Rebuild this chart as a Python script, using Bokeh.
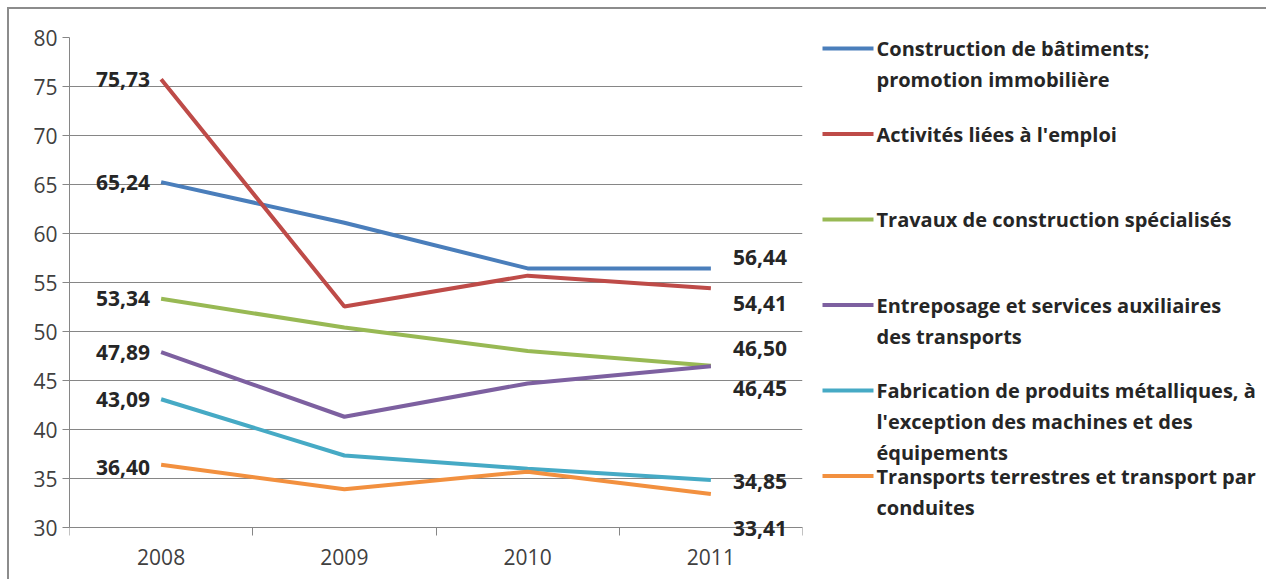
from bokeh.plotting import figure
from bokeh.layouts import row
from bokeh.models import Range1d, FixedTicker, LabelSet, Label, ColumnDataSource
from bokeh.core.properties import value
from bokeh.embed import file_html
from bokeh.resources import INLINE

years = ["2008", "2009", "2010", "2011"]
series_names = [
    "Construction de bâtiments;\npromotion immobilière",
    "Activités liées à l'emploi",
    "Travaux de construction spécialisés",
    "Entreposage et services auxiliaires\ndes transports",
    "Fabrication de produits métalliques, à\nl'exception des machines et des\néquipements",
    "Transports terrestres et transport par\nconduites",
]
construction = [65.24, 61.1, 56.44, 56.44]
emploi = [75.73, 52.55, 55.7, 54.41]
travaux = [53.34, 50.4, 48.0, 46.50]
entreposage = [47.89, 41.3, 44.7, 46.45]
fabrication = [43.09, 37.35, 36.0, 34.85]
transports = [36.40, 33.9, 35.7, 33.41]
all_series = [construction, emploi, travaux, entreposage, fabrication, transports]
y_ticks = list(range(30, 81, 5))

colors = ["#4A7EBB", "#BE4B48", "#98B954", "#7D60A0", "#46AAC5", "#F2903F"]
start_label_offsets = [0, 0, 0, 0, 0, -3]          # screen px, positive = up
end_label_offsets = [11, -15, 17, -22, -2, -34]    # screen px, positive = up

FONT = "Open Sans"
GRID = "#868686"
Y0, Y1, YLOW = 30, 80, 25
MT, FH = 28, 539
MB = 570 - MT - FH

xs = [i + 0.5 for i in range(len(years))]

p = figure(width=802, height=570, x_range=Range1d(0, len(years)), y_range=Range1d(YLOW, Y1),
           toolbar_location=None, output_backend="svg",
           min_border_left=60, min_border_right=9, min_border_top=MT, min_border_bottom=MB)
p.outline_line_color = None
p.background_fill_color = "white"
p.border_fill_color = "white"

for vals, c in zip(all_series, colors):
    p.line(xs, vals, line_color=c, line_width=4)

def fmt(v):
    return f"{v:.2f}".replace(".", ",")

label_style = dict(text_font=FONT, text_font_style="bold", text_font_size="21px",
                   text_color="#262626", text_baseline="middle")
for s, d0, d1 in zip(all_series, start_label_offsets, end_label_offsets):
    p.add_layout(Label(x=xs[0], y=s[0], text=fmt(s[0]), x_offset=-11, y_offset=d0,
                       text_align="right", **label_style))
    p.add_layout(Label(x=xs[-1], y=s[-1], text=fmt(s[-1]), x_offset=22, y_offset=d1,
                       text_align="left", **label_style))

xt = FixedTicker(ticks=xs, minor_ticks=list(range(len(years) + 1)))
p.xaxis.ticker = xt
p.xaxis.fixed_location = Y0
p.xaxis.major_label_overrides = {x: y for x, y in zip(xs, years)}
p.xaxis.major_tick_out = 0
p.xaxis.major_tick_in = 0
p.xaxis.minor_tick_out = 8
p.xaxis.minor_tick_in = 0
p.xaxis.minor_tick_line_color = GRID
p.xaxis.axis_line_color = GRID
p.xaxis.major_label_standoff = 13

p.yaxis.ticker = FixedTicker(ticks=y_ticks)
p.yaxis.bounds = (Y0, Y1)
p.yaxis.major_tick_out = 7
p.yaxis.major_tick_in = 0
p.yaxis.minor_tick_line_color = None
p.yaxis.major_tick_line_color = GRID
p.yaxis.axis_line_color = GRID
p.yaxis.major_label_standoff = 5

for ax in (p.xaxis, p.yaxis):
    ax.major_label_text_font = FONT
    ax.major_label_text_font_size = "21px"
    ax.major_label_text_color = "#404040"

p.xgrid.grid_line_color = None
p.ygrid.grid_line_color = GRID
p.ygrid.grid_line_width = 1

# legend panel: data coordinates = pixels from the panel's top edge
q = figure(width=455, height=570, x_range=Range1d(0, 455), y_range=Range1d(MT + FH, MT),
           toolbar_location=None, output_backend="svg",
           min_border_left=0, min_border_right=0, min_border_top=MT, min_border_bottom=MB)
q.axis.visible = False
q.grid.visible = False
q.outline_line_color = None
q.background_fill_color = "white"
q.border_fill_color = "white"

entry_y = [39 + i * 85.5 for i in range(len(series_names))]
q.segment(x0=[11] * len(entry_y), x1=[62] * len(entry_y), y0=entry_y, y1=entry_y,
          line_color=colors, line_width=4)
tx, ty, tt = [], [], []
for yy, name in zip(entry_y, series_names):
    for j, line in enumerate(name.split("\n")):
        tx.append(65)
        ty.append(yy + j * 31)
        tt.append(line)
leg_src = ColumnDataSource(dict(x=tx, y=ty, t=tt))
q.add_layout(LabelSet(x="x", y="y", text="t", source=leg_src, text_align="left",
                      text_baseline="middle", text_font=value(FONT), text_font_style="bold",
                      text_font_size="20px", text_color="#262626"))

layout = row(p, q, spacing=0, styles={"margin": "7px 0 0 7px",
                                      "border-left": "2px solid #8c8c8c",
                                      "border-top": "2px solid #8c8c8c"})

open("out.html", "w").write(file_html(layout, INLINE))
